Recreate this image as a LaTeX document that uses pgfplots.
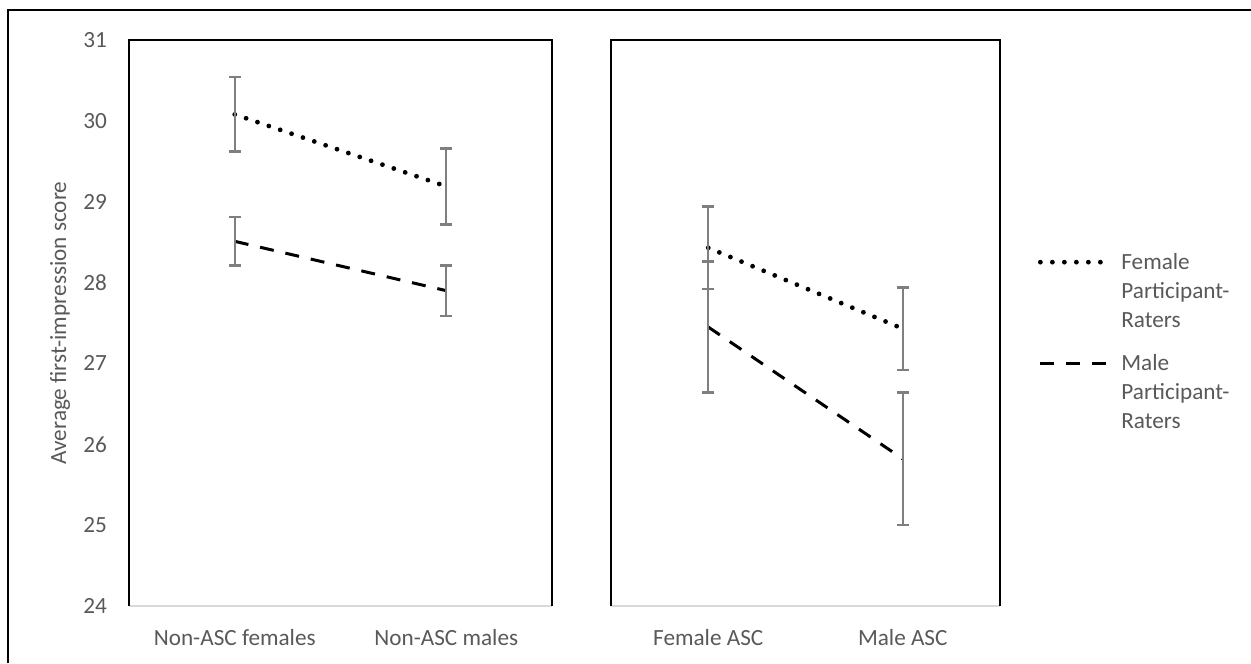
\documentclass[border=0pt]{standalone}
\usepackage{fontspec}
\setmainfont{Carlito}
\usepackage{pgfplots}
\pgfplotsset{compat=1.18}
\usepackage{pgfplotstable}
\definecolor{txtgray}{HTML}{595959}
\definecolor{errgray}{HTML}{7F7F7F}
\definecolor{axgray}{HTML}{D9D9D9}

\pgfplotstableread{
x y e
0 30.08 0.46
1 29.19 0.47
}\leftF
\pgfplotstableread{
x y e
0 28.51 0.30
1 27.90 0.31
}\leftM
\pgfplotstableread{
x y e
0 28.43 0.51
1 27.43 0.51
}\rightF
\pgfplotstableread{
x y e
0 27.45 0.81
1 25.82 0.82
}\rightM

\begin{document}
\fontsize{11.6}{14.5}\selectfont
\begin{tikzpicture}
\useasboundingbox (0,0) rectangle (625.5pt,331.5pt);
\draw[line width=1pt] (3.75pt,0) -- (3.75pt,326.25pt) -- (625.5pt,326.25pt);

\pgfplotsset{
 panel/.style={
  scale only axis, height=283pt, ymin=24, ymax=31, xmin=-0.5, xmax=1.5,
  xtick={0,1}, major tick length=0, axis line style={draw=none},
  ticklabel style={text=txtgray, font=\fontsize{11.6}{14}\selectfont},
  xticklabel style={yshift=-7.5pt},
  /pgf/number format/assume math mode=true,
  clip=false,
 },
 femstyle/.style={black, line width=2.4pt, line cap=round, dash pattern=on 0pt off 6pt},
 malstyle/.style={black, line width=1.5pt, line cap=butt, dash pattern=on 7pt off 6pt},
 eb/.style={error bars/.cd, y dir=both, y explicit,
   error bar style={errgray, line width=1.2pt, solid, line cap=butt},
   error mark options={rotate=90, errgray, mark size=3pt, line width=1.2pt, solid, line cap=butt}},
}

\begin{axis}[panel, at={(64.5pt,28.5pt)}, anchor=south west, width=211.5pt,
  ytick={24,25,...,31},
  yticklabel style={xshift=-7pt},
  xticklabels={Non-ASC females, Non-ASC males},
  ylabel={Average first-impression score},
  ylabel style={text=txtgray, font=\fontsize{11.6}{14}\selectfont, at={([xshift=-34.5pt]axis description cs:0,0.5)}, anchor=center},
]
\addplot[femstyle, eb] table[x=x, y=y, y error=e] {\leftF};
\addplot[malstyle, eb] table[x=x, y=y, y error=e] {\leftM};
\draw[axgray, line width=1pt] (rel axis cs:0,0) -- (rel axis cs:1,0);
\draw[black, line width=1pt] (rel axis cs:0,0) -- (rel axis cs:0,1) -- (rel axis cs:1,1) -- (rel axis cs:1,0);
\end{axis}

\begin{axis}[panel, at={(305.5pt,28.5pt)}, anchor=south west, width=194.5pt,
  ytick=\empty,
  xticklabels={Female ASC, Male ASC},
  legend style={at={(1.1028,0.631)}, anchor=north west, draw=none, fill=none,
     inner sep=0pt, row sep=7pt, column sep=5.5pt,
     nodes={inner sep=0pt, text depth=, text height=, text=txtgray}, cells={anchor=base west},
     font=\fontsize{11.6}{14.5}\selectfont},
  legend image code/.code={\path[draw=none, use as bounding box] (0pt,0pt) rectangle (35pt,5pt);
     \draw[#1] (0pt,3.7pt) -- (35pt,3.7pt);},
]
\addplot[femstyle, eb] table[x=x, y=y, y error=e] {\rightF};
\addlegendentry{\begin{tabular}[t]{@{}l@{}}Female\\Participant-\\Raters\end{tabular}}
\addplot[malstyle, eb] table[x=x, y=y, y error=e] {\rightM};
\addlegendentry{\begin{tabular}[t]{@{}l@{}}Male\\Participant-\\Raters\end{tabular}}
\draw[axgray, line width=1pt] (rel axis cs:0,0) -- (rel axis cs:1,0);
\draw[black, line width=1pt] (rel axis cs:0,0) -- (rel axis cs:0,1) -- (rel axis cs:1,1) -- (rel axis cs:1,0);
\end{axis}
\end{tikzpicture}
\end{document}
